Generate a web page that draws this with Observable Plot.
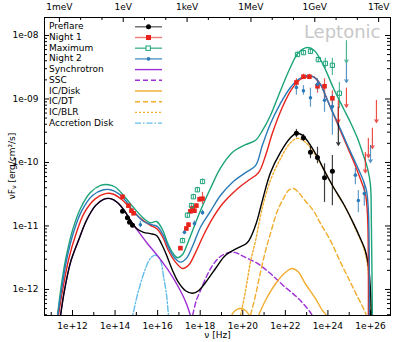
<!DOCTYPE html>
<html><head><meta charset="utf-8">
<script src="https://cdn.jsdelivr.net/npm/d3@7"></script>
<script src="https://cdn.jsdelivr.net/npm/@observablehq/plot@0.6"></script>
<style>
body{margin:0;background:#fff;}
#wrap{position:relative;width:399px;height:342px;font-family:"DejaVu Sans",sans-serif;}
</style>
</head><body><div id="wrap"></div>
<script>
// ---------- data (log10 nu [Hz], log10 nuFnu [erg/cm2/s]) ----------
const preflareModel = [[11.44,-12.41],[11.62,-12.02],[11.91,-11.57],[12.28,-11.23],[12.66,-10.91],[13.08,-10.68],[13.46,-10.58],[13.79,-10.57],[14.11,-10.63],[14.44,-10.76],[14.72,-10.91],[15.01,-11.04],[15.34,-11.10],[15.66,-11.12],[15.95,-11.15],[16.18,-11.28],[16.42,-11.46],[16.70,-11.70],[16.98,-11.89],[17.31,-12.02],[17.64,-12.06],[17.92,-12.02],[18.25,-11.89],[18.72,-11.67],[19.19,-11.46],[19.75,-11.35],[20.22,-11.26],[20.60,-10.99],[20.92,-10.60],[21.30,-10.16],[21.77,-9.84],[22.24,-9.61],[22.52,-9.54],[22.80,-9.57],[23.18,-9.73],[23.55,-9.94],[23.88,-10.16],[24.26,-10.39],[24.73,-10.65],[25.20,-10.96],[25.53,-11.20],[25.76,-11.39],[25.90,-11.62],[26.00,-12.02],[26.04,-12.49]];
const night1Model = [[11.34,-12.41],[11.53,-12.02],[11.81,-11.54],[12.14,-11.15],[12.56,-10.79],[13.08,-10.57],[13.55,-10.49],[13.93,-10.50],[14.30,-10.58],[14.72,-10.72],[15.19,-10.88],[15.66,-10.99],[15.95,-11.04],[16.23,-11.17],[16.51,-11.39],[16.84,-11.57],[17.17,-11.67],[17.45,-11.62],[17.78,-11.42],[18.15,-11.15],[18.58,-10.88],[19.05,-10.65],[19.66,-10.44],[20.27,-10.28],[20.74,-10.16],[21.07,-9.89],[21.39,-9.54],[21.86,-9.13],[22.33,-8.83],[22.71,-8.69],[23.04,-8.65],[23.32,-8.65],[23.65,-8.77],[23.88,-8.94],[24.12,-9.13],[24.45,-9.39],[24.92,-9.76],[25.29,-10.05],[25.57,-10.30],[25.76,-10.49],[25.86,-10.83],[25.90,-12.49]];
const maximumModel = [[11.30,-12.41],[11.44,-12.02],[11.67,-11.54],[12.00,-11.07],[12.38,-10.72],[12.85,-10.47],[13.32,-10.36],[13.69,-10.35],[14.02,-10.39],[14.40,-10.52],[14.87,-10.71],[15.34,-10.88],[15.66,-10.95],[15.95,-10.93],[16.23,-11.06],[16.46,-11.26],[16.70,-11.42],[16.93,-11.50],[17.17,-11.45],[17.40,-11.28],[17.68,-11.04],[18.01,-10.76],[18.48,-10.41],[18.95,-10.09],[19.52,-9.84],[20.13,-9.72],[20.60,-9.65],[20.92,-9.50],[21.30,-9.26],[21.77,-8.87],[22.24,-8.50],[22.62,-8.27],[23.04,-8.19],[23.37,-8.24],[23.79,-8.47],[24.26,-8.83],[24.73,-9.15],[25.06,-9.37],[25.39,-9.62],[25.67,-9.89],[25.86,-10.09],[26.00,-10.36],[26.04,-10.91],[26.09,-12.49]];
const night2Model = [[11.30,-12.41],[11.48,-12.02],[11.72,-11.54],[12.05,-11.10],[12.42,-10.77],[12.94,-10.52],[13.46,-10.43],[13.79,-10.43],[14.16,-10.49],[14.49,-10.60],[14.87,-10.77],[15.34,-10.93],[15.71,-10.98],[15.99,-11.01],[16.27,-11.15],[16.51,-11.34],[16.79,-11.50],[17.07,-11.57],[17.35,-11.51],[17.64,-11.32],[18.01,-11.02],[18.48,-10.77],[18.95,-10.52],[19.52,-10.31],[20.13,-10.16],[20.60,-10.05],[20.92,-9.73],[21.30,-9.39],[21.77,-9.07],[22.24,-8.82],[22.62,-8.69],[23.04,-8.63],[23.32,-8.65],[23.65,-8.77],[23.88,-8.94],[24.12,-9.13],[24.45,-9.37],[24.92,-9.73],[25.29,-10.00],[25.62,-10.25],[25.81,-10.44],[25.90,-10.76],[25.95,-12.49]];
const synchrotron = [[11.44,-12.41],[11.62,-12.02],[11.91,-11.57],[12.28,-11.23],[12.66,-10.91],[13.08,-10.68],[13.46,-10.58],[13.79,-10.57],[14.11,-10.63],[14.44,-10.76],[14.72,-10.91],[15.10,-11.09],[15.48,-11.26],[15.90,-11.43],[16.27,-11.59],[16.70,-11.80],[17.07,-12.02],[17.35,-12.22],[17.54,-12.41],[17.64,-12.52]];
const ssc = [[17.54,-12.52],[17.64,-12.41],[17.82,-12.17],[18.01,-12.02],[18.25,-11.83],[18.58,-11.62],[18.95,-11.48],[19.33,-11.42],[19.66,-11.42],[20.03,-11.48],[20.69,-11.59],[21.30,-11.75],[21.91,-11.94],[22.57,-12.13],[23.04,-12.30],[23.27,-12.41],[23.41,-12.49]];
const icDisk = [[19.33,-12.52],[19.56,-12.36],[19.75,-12.31],[19.94,-12.30],[20.13,-12.33],[20.31,-12.41],[20.45,-12.52],[20.64,-12.49],[20.74,-12.41],[21.07,-12.17],[21.54,-11.91],[22.01,-11.73],[22.33,-11.67],[22.62,-11.73],[22.94,-11.91],[23.41,-12.14],[23.74,-12.33],[23.93,-12.41],[24.03,-12.52]];
const icDT = [[20.27,-12.52],[20.36,-12.41],[20.60,-12.09],[20.83,-11.73],[21.07,-11.39],[21.30,-11.12],[21.63,-10.76],[21.91,-10.57],[22.15,-10.44],[22.38,-10.41],[22.62,-10.47],[22.85,-10.57],[23.32,-10.76],[23.65,-10.96],[24.12,-11.23],[24.59,-11.57],[25.06,-11.89],[25.43,-12.14],[25.67,-12.30],[25.81,-12.41],[25.90,-12.52]];
const icBLR = [[19.80,-12.52],[19.89,-12.41],[20.13,-12.02],[20.36,-11.57],[20.60,-11.23],[20.92,-10.71],[21.30,-10.28],[21.77,-9.94],[22.24,-9.69],[22.57,-9.62],[22.90,-9.67],[23.27,-9.81],[23.65,-10.02],[24.03,-10.25],[24.45,-10.50],[24.92,-10.77],[25.29,-11.04],[25.62,-11.29],[25.81,-11.51],[25.95,-11.91],[26.04,-12.41],[26.09,-12.52]];
const accretionDisk = [[14.72,-12.52],[14.82,-12.41],[15.10,-12.02],[15.43,-11.67],[15.66,-11.51],[15.90,-11.46],[16.13,-11.54],[16.27,-11.78],[16.42,-12.09],[16.51,-12.41],[16.55,-12.52]];

// observed points: [log nu, log F, log F high, log F low]
const preflarePts = [[14.35,-10.77,-10.77,-10.77],[14.58,-10.87,-10.87,-10.87],[14.68,-10.94,-10.94,-10.94],[14.82,-10.99,-10.99,-10.99],
  [22.52,-9.54,-9.48,-9.61],[22.85,-9.61,-9.56,-9.67],[23.18,-9.84,-9.75,-9.94],[23.51,-9.92,-9.76,-10.02],[23.84,-10.24,-10.02,-10.63],[24.21,-10.14,-9.89,-10.68]];
const night1Pts = [[14.35,-10.54,-10.54,-10.54],[14.63,-10.68,-10.68,-10.68],[14.77,-10.76,-10.76,-10.76],[14.87,-10.80,-10.80,-10.80],
  [17.07,-11.35,-11.32,-11.38],[17.35,-11.04,-11.01,-11.07],[17.45,-10.98,-10.95,-11.01],[17.54,-10.77,-10.74,-10.80],[17.64,-10.72,-10.69,-10.75],[17.73,-10.76,-10.73,-10.79],[17.82,-10.68,-10.65,-10.71],[17.97,-10.58,-10.54,-10.62],[18.11,-10.57,-10.47,-10.66],
  [22.52,-8.74,-8.68,-8.80],[22.85,-8.65,-8.61,-8.69],[23.13,-8.65,-8.61,-8.69],[23.51,-8.80,-8.71,-8.91],[23.84,-8.80,-8.68,-9.02],[24.21,-8.99,-8.87,-9.15]];
const maximumPts = [[17.17,-11.23,-11.19,-11.27],[17.40,-10.83,-10.79,-10.87],[17.59,-10.68,-10.64,-10.72],[17.68,-10.54,-10.50,-10.58],[17.87,-10.43,-10.39,-10.47],[18.11,-10.30,-10.26,-10.34],
  [22.57,-8.30,-8.26,-8.34],[22.85,-8.27,-8.23,-8.31],[23.18,-8.25,-8.21,-8.29],[23.55,-8.38,-8.33,-8.43],[23.88,-8.44,-8.36,-8.52],[24.21,-8.47,-8.36,-8.63],[24.54,-8.91,-8.74,-9.15]];
const night2Pts = [[15.19,-10.98,-10.93,-11.03],[17.26,-11.10,-11.06,-11.14],[17.73,-10.96,-10.92,-11.00],[18.11,-10.79,-10.75,-10.83],
  [22.52,-8.82,-8.71,-8.94],[22.85,-8.87,-8.79,-8.94],[23.18,-8.98,-8.83,-9.13],[23.51,-8.77,-8.68,-8.87],[23.84,-9.02,-8.87,-9.21],[24.21,-9.12,-8.94,-9.57],
  [25.29,-10.20,-10.09,-10.35],[25.43,-10.60,-10.44,-10.79],[25.71,-10.49,-10.31,-10.69]];
// upper limits: [log nu, log F (limit), log F arrow tip]
const preflareUL = [[24.49,-9.13,-9.73]];
const night1UL = [[24.49,-9.02,-9.37],[24.87,-8.83,-9.13],[25.76,-9.84,-10.16],[25.90,-9.62,-9.92],[26.09,-9.46,-9.78],[26.28,-9.02,-9.37]];
const maximumUL = [[24.87,-8.08,-8.43]];
const night2UL = [[24.87,-8.44,-8.74],[26.00,-9.73,-10.00]];

// tick labels
const xTickExp = [12,14,16,18,20,22,24,26];
const yTickExp = [-12,-11,-10,-9,-8];
const energyLabels = ["1meV","1eV","1keV","1MeV","1GeV","1TeV"];
const energyEv = [1e-3,1,1e3,1e6,1e9,1e12];
const HZ_PER_EV = 2.418e14;

// ---------- helpers ----------
const P = v => Math.pow(10, v);
const curve = a => a.map(([x, y]) => ({x: P(x), y: P(y)}));
const pts = a => a.map(([x, y, hi, lo]) => ({x: P(x), y: P(y), hi: P(hi), lo: P(lo)}));
const uls = a => a.map(([x, y, tip]) => ({x: P(x), y: P(y), tip: P(tip)}));

const W = 399, H = 342, mL = 44, mR = 9, mT = 17, mB = 27;
const innerW = W - mL - mR, innerH = H - mT - mB;

const C = {pre: "#000000", n1: "#e8231c", max: "#1ba37a", n2: "#2a7ab8", syn: "#9d2fd6", ic: "#f2ac2c", ad: "#63bdea"};

const xMajor = xTickExp.map(P);
const xMinor = d3.range(11, 27).filter(e => !xTickExp.includes(e)).map(P);
const yMajor = yTickExp.map(P);
const yMinor = [];
for (let e = -13; e <= -8; e++) for (let k = 2; k <= 9; k++) { const v = k * P(e); if (v > P(-12.41) && v < P(-7.717)) yMinor.push(v); }
const eHz = energyEv.map(e => e * HZ_PER_EV);
const eMinor = [];
for (let e = -4; e <= 13; e++) { const v = P(e) * HZ_PER_EV; if (!energyEv.includes(P(e)) && v > P(10.685) && v < P(26.94)) eMinor.push(v); }

const line = (data, stroke, extra = {}) => Plot.line(curve(data), {x: "x", y: "y", stroke, strokeWidth: 1.4, curve: "catmull-rom", clip: true, ...extra});
const errs = (data, stroke) => Plot.ruleX(pts(data), {x: "x", y1: "lo", y2: "hi", stroke, strokeWidth: 1.2, strokeOpacity: 0.75, clip: true});
const arrows = (data, stroke) => Plot.arrow(uls(data), {x: "x", y1: "y", y2: "tip", stroke, strokeWidth: 1.2, strokeOpacity: 0.8, headLength: 4, clip: true});

const chart = Plot.plot({
  width: W, height: H, marginLeft: mL, marginRight: mR, marginTop: mT, marginBottom: mB,
  style: {fontFamily: "DejaVu Sans", fontSize: "9px", background: "white", color: "black", overflow: "visible"},
  x: {type: "log", domain: [P(10.685), P(26.94)]},
  y: {type: "log", domain: [P(-12.41), P(-7.717)]},
  marks: [
    Plot.text(["Leptonic"], {frameAnchor: "top-right", dx: -10, dy: 8, lineAnchor: "top", textAnchor: "end", fontSize: 18, fill: "#c8c8c8"}),
    line(accretionDisk, C.ad, {strokeDasharray: "6,2,1.5,2"}),
    line(synchrotron, C.syn),
    line(ssc, C.syn, {strokeDasharray: "5,3"}),
    line(icDisk, C.ic),
    line(icDT, C.ic, {strokeDasharray: "5,3"}),
    line(icBLR, C.ic, {strokeDasharray: "2,2"}),
    line(preflareModel, C.pre),
    line(night1Model, C.n1),
    line(maximumModel, C.max),
    line(night2Model, C.n2),
    errs(preflarePts, C.pre), errs(night1Pts, C.n1), errs(maximumPts, C.max), errs(night2Pts, C.n2),
    arrows(preflareUL, C.pre), arrows(night1UL, C.n1), arrows(maximumUL, C.max), arrows(night2UL, C.n2),
    Plot.dot(pts(preflarePts), {x: "x", y: "y", r: 2.5, fill: C.pre, clip: true}),
    Plot.dot(pts(night1Pts), {x: "x", y: "y", symbol: "square", r: 2.6, fill: C.n1, clip: true}),
    Plot.dot(pts(maximumPts), {x: "x", y: "y", symbol: "square", r: 2.4, stroke: C.max, fill: "none", strokeWidth: 1, clip: true}),
    Plot.dot(pts(night2Pts), {x: "x", y: "y", r: 1.8, fill: C.n2, clip: true}),
    Plot.frame({stroke: "black", strokeWidth: 1}),
    // inward ticks
    Plot.tickX(xMajor, {x: d => d, insetTop: innerH - 5, stroke: "black"}),
    Plot.tickX(xMinor, {x: d => d, insetTop: innerH - 3, stroke: "black"}),
    Plot.tickX(eHz, {x: d => d, insetBottom: innerH - 5, stroke: "black"}),
    Plot.tickX(eMinor, {x: d => d, insetBottom: innerH - 3, stroke: "black"}),
    Plot.tickY(yMajor, {y: d => d, insetRight: innerW - 5, stroke: "black"}),
    Plot.tickY(yMinor, {y: d => d, insetRight: innerW - 3, stroke: "black"}),
    Plot.tickY(yMajor, {y: d => d, insetLeft: innerW - 5, stroke: "black"}),
    Plot.tickY(yMinor, {y: d => d, insetLeft: innerW - 3, stroke: "black"}),
    Plot.axisX(xMajor, {anchor: "bottom", tickSize: 0, tickPadding: 7, label: null, tickFormat: d => "1e+" + Math.round(Math.log10(d))}),
    Plot.axisX(eHz, {anchor: "top", tickSize: 0, tickPadding: 8, label: null, tickFormat: d => energyLabels[eHz.indexOf(d)]}),
    Plot.axisY(yMajor, {anchor: "left", tickSize: 0, tickPadding: 6, label: null, tickFormat: d => "1e-" + String(-Math.round(Math.log10(d))).padStart(2, "0")}),
    Plot.text(["ν [Hz]"], {frameAnchor: "bottom", dy: 20, lineAnchor: "middle", fontSize: 9})
  ]
});
const wrap = document.getElementById("wrap");
wrap.appendChild(chart);

// ---------- overlay: y label + legend ----------
const ov = d3.select(wrap).append("svg").attr("width", W).attr("height", H)
  .style("position", "absolute").style("left", 0).style("top", 0)
  .style("font-family", "DejaVu Sans").style("font-size", "9px");
const yl = ov.append("text").attr("transform", "translate(12,166) rotate(-90)").attr("text-anchor", "middle").attr("dominant-baseline", "middle");
yl.append("tspan").text("νF");
yl.append("tspan").attr("font-size", "6.5px").attr("dy", 2).text("ν");
yl.append("tspan").attr("dy", -2).text(" [erg/cm²/s]");

const legendNames = ["Preflare","Night 1","Maximum","Night 2","Synchrotron","SSC","IC/Disk","IC/DT","IC/BLR","Accretion Disk"];
const legendStyle = [
  {c: C.pre, m: "dot", op: 0.6}, {c: C.n1, m: "sq", op: 0.6}, {c: C.max, m: "osq", op: 0.8}, {c: C.n2, m: "sdot", op: 0.8},
  {c: C.syn}, {c: C.syn, dash: "5,3"}, {c: C.ic}, {c: C.ic, dash: "5,3"}, {c: C.ic, dash: "2,2"}, {c: C.ad, dash: "6,2,1.5,2"}
];
legendNames.forEach((name, i) => {
  const y = 26.8 + 10.7 * i, s = legendStyle[i];
  ov.append("text").attr("x", 49).attr("y", y).attr("dominant-baseline", "middle").text(name);
  ov.append("line").attr("x1", 135).attr("x2", 162).attr("y1", y).attr("y2", y)
    .attr("stroke", s.c).attr("stroke-width", 1.4).attr("stroke-opacity", s.op || 1).attr("stroke-dasharray", s.dash || null);
  if (s.m === "dot") ov.append("circle").attr("cx", 148.5).attr("cy", y).attr("r", 2.5).attr("fill", s.c);
  if (s.m === "sdot") ov.append("circle").attr("cx", 148.5).attr("cy", y).attr("r", 1.8).attr("fill", s.c);
  if (s.m === "sq") ov.append("rect").attr("x", 146).attr("y", y - 2.5).attr("width", 5).attr("height", 5).attr("fill", s.c);
  if (s.m === "osq") ov.append("rect").attr("x", 146).attr("y", y - 2.2).attr("width", 4.4).attr("height", 4.4).attr("fill", "white").attr("stroke", s.c);
});
</script>
</body></html>
